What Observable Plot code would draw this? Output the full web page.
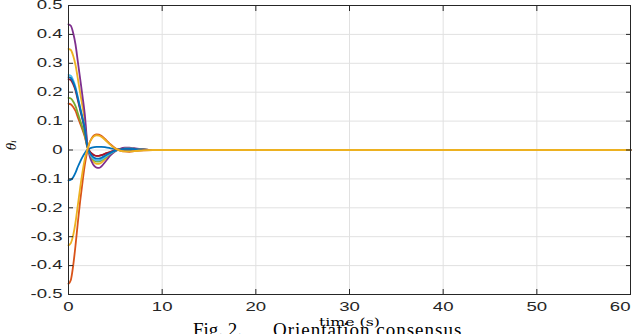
<!DOCTYPE html>
<html>
<head>
<meta charset="utf-8">
<script src="https://cdn.jsdelivr.net/npm/d3@7"></script>
<script src="https://cdn.jsdelivr.net/npm/@observablehq/plot@0.6"></script>
<style>
  html, body { margin: 0; padding: 0; background: #fff; overflow: hidden; }
  #wrap { position: relative; width: 639px; height: 334px; }
  .cap { position: absolute; top: 320px; font-family: "Liberation Serif", serif; font-size: 19px; line-height: 19px; color: #000; white-space: pre; }
</style>
</head>
<body>
<div id="wrap"></div>
<script>
// time samples (s)
const time = [0,0.25,0.5,0.75,1,1.25,1.5,1.75,2,2.25,2.5,2.75,3,3.25,3.5,4,4.5,5,5.5,6,6.5,7,8,9,10,60];

// theta_i for each agent
const agent1  = [-0.105,-0.103,-0.094,-0.078,-0.058,-0.040,-0.024,-0.010,0.000,0.005,0.008,0.010,0.011,0.011,0.011,0.009,0.006,0.003,0.001,0,-0.001,-0.001,0,0,0,0];
const agent2  = [0.16,0.158,0.149,0.135,0.113,0.091,0.069,0.045,0.011,-0.004,-0.013,-0.018,-0.020,-0.020,-0.018,-0.012,-0.006,-0.001,0.002,0.003,0.003,0.002,0.001,0,0,0];
const agent3  = [0.35,0.346,0.326,0.294,0.246,0.197,0.149,0.097,0.020,-0.014,-0.032,-0.043,-0.048,-0.048,-0.044,-0.029,-0.014,-0.003,0.003,0.006,0.006,0.005,0.002,0,0,0];
const agent4  = [0.435,0.430,0.405,0.365,0.305,0.245,0.185,0.120,0.025,-0.020,-0.042,-0.055,-0.061,-0.062,-0.057,-0.038,-0.018,-0.004,0.004,0.008,0.008,0.006,0.002,0,0,0];
const agent5  = [0.18,0.178,0.168,0.152,0.127,0.102,0.077,0.050,0.012,-0.012,-0.027,-0.036,-0.040,-0.040,-0.036,-0.024,-0.012,-0.003,0.002,0.005,0.005,0.004,0.001,0,0,0];
const agent6  = [0.26,0.257,0.242,0.218,0.183,0.147,0.111,0.073,0.015,-0.010,-0.024,-0.032,-0.036,-0.036,-0.033,-0.022,-0.011,-0.003,0.002,0.005,0.005,0.004,0.001,0,0,0];
const agent7  = [0.245,0.242,0.228,0.206,0.172,0.138,0.105,0.069,0.015,-0.004,-0.013,-0.018,-0.020,-0.020,-0.018,-0.012,-0.006,-0.001,0.002,0.004,0.004,0.003,0.001,0,0,0];
const agent8  = [0.252,0.249,0.235,0.212,0.178,0.143,0.108,0.071,0.015,-0.008,-0.020,-0.027,-0.030,-0.030,-0.027,-0.018,-0.009,-0.002,0.002,0.004,0.004,0.003,0.001,0,0,0];
const agent9  = [-0.463,-0.450,-0.400,-0.330,-0.250,-0.175,-0.110,-0.050,-0.005,0.025,0.042,0.051,0.054,0.053,0.049,0.035,0.019,0.006,-0.002,-0.005,-0.006,-0.004,-0.001,0,0,0];
const agent10 = [-0.330,-0.322,-0.295,-0.250,-0.190,-0.130,-0.075,-0.030,0.000,0.025,0.040,0.048,0.051,0.050,0.046,0.032,0.017,0.005,-0.002,-0.005,-0.005,-0.004,-0.001,0,0,0];

const agents = [agent1, agent2, agent3, agent4, agent5, agent6, agent7, agent8, agent9, agent10];
const colors = ["#0072BD","#D95319","#EDB120","#7E2F8E","#77AC30","#4DBEEE","#A2142F","#0072BD","#D95319","#EDB120"];

const xTicks = [0,10,20,30,40,50,60];
const xTickLabels = ["0","10","20","30","40","50","60"];
const yTicks = [-0.5,-0.4,-0.3,-0.2,-0.1,0,0.1,0.2,0.3,0.4,0.5];
const yTickLabels = ["-0.5","-0.4","-0.3","-0.2","-0.1","0","0.1","0.2","0.3","0.4","0.5"];
const xLabel = "time (s)";
const yLabel = "θᵢ";
const captionA = "Fig. 2.";
const captionB = "Orientation consensus";

const rows = agents.flatMap((vals, k) => time.map((t, i) => ({t, v: vals[i], k})));

const axisColor = "#262626";
const chart = Plot.plot({
  width: 639, height: 334,
  marginTop: 5, marginBottom: 40, marginLeft: 68, marginRight: 9,
  x: {domain: [0, 60]},
  y: {domain: [-0.5, 0.5]},
  style: {fontFamily: "Liberation Sans", fontSize: "12px", color: axisColor, background: "#fff"},
  marks: [
    Plot.gridX(xTicks, {stroke: "#e1e1e1", strokeOpacity: 1}),
    Plot.gridY(yTicks, {stroke: "#e1e1e1", strokeOpacity: 1}),
    ...agents.map((_, k) => Plot.line(rows.filter(r => r.k === k), {x: "t", y: "v", stroke: colors[k], strokeWidth: 1.8, curve: "monotone-x"})),
    Plot.axisX(xTicks, {anchor: "bottom", tickSize: -5, tickPadding: 13, tickFormat: d => xTickLabels[xTicks.indexOf(d)], label: null, stroke: axisColor}),
    Plot.axisX(xTicks, {anchor: "top", tickSize: -5, tickFormat: () => "", label: null, stroke: axisColor}),
    Plot.axisY(yTicks, {anchor: "left", tickSize: -5, tickPadding: 11, tickFormat: d => yTickLabels[yTicks.indexOf(d)], label: null, stroke: axisColor}),
    Plot.axisY(yTicks, {anchor: "right", tickSize: -5, tickFormat: () => "", label: null, stroke: axisColor}),
    Plot.frame({stroke: axisColor}),
    Plot.text([xLabel], {text: d => d, frameAnchor: "bottom", dy: 28, lineAnchor: "middle", fontFamily: "DejaVu Serif", fontSize: 10.5, fill: "#000"}),
    Plot.text([yLabel], {text: d => d, frameAnchor: "left", dx: -56, rotate: -90, fontFamily: "DejaVu Serif", fontStyle: "italic", fontSize: 12, fill: "#000"})
  ]
});

// the reference's text is stretched horizontally; widen text glyphs in place
function stretch(t, s) {
  let tr = t.getAttribute("transform");
  if (!tr) {
    const x = +(t.getAttribute("x") || 0), y = +(t.getAttribute("y") || 0);
    t.removeAttribute("x"); t.removeAttribute("y");
    tr = `translate(${x},${y})`;
  }
  t.setAttribute("transform", tr + ` scale(${s},1)`);
}
chart.querySelectorAll('g[aria-label="x-axis tick label"] text, g[aria-label="y-axis tick label"] text').forEach(t => stretch(t, 1.55));
chart.querySelectorAll('g[aria-label="x-axis tick label"] text').forEach(t => {
  // the last label sits inside the right edge, as in the reference
  if (t.textContent === xTickLabels[xTickLabels.length - 1]) t.setAttribute("text-anchor", "end");
});
chart.querySelectorAll("text").forEach(t => { if (t.textContent === xLabel) stretch(t, 1.5); });

const wrap = document.getElementById("wrap");
wrap.appendChild(chart);
const c1 = document.createElement("div");
c1.className = "cap"; c1.style.left = "193px"; c1.textContent = captionA;
const c2 = document.createElement("div");
c2.className = "cap"; c2.style.left = "273px"; c2.style.letterSpacing = "1px"; c2.textContent = captionB;
wrap.appendChild(c1); wrap.appendChild(c2);
</script>
</body>
</html>
